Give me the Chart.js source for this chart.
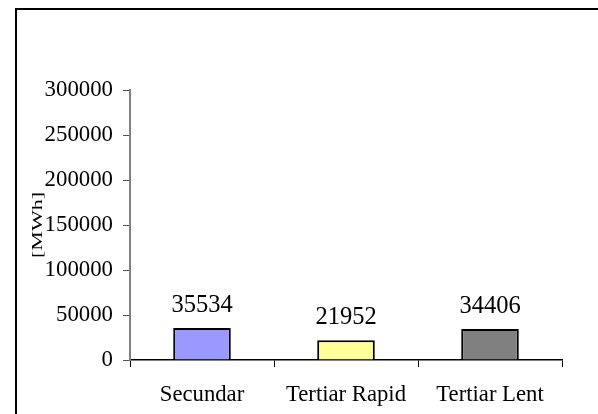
<!DOCTYPE html>
<html>
<head>
<meta charset="utf-8">
<script src="https://cdn.jsdelivr.net/npm/chart.js@4/dist/chart.umd.min.js"></script>
<style>
html,body{margin:0;padding:0;background:#fff;}
canvas{display:block;}
</style>
</head>
<body>
<canvas id="c" width="598" height="414"></canvas>
<script>
const categories = ['Secundar', 'Tertiar Rapid', 'Tertiar Lent'];
const values = [35534, 21952, 34406];
const barColors = ['#9999FF', '#FFFF99', '#808080'];
const yTitle = '[MWh]';
const yMin = 0, yMax = 300000, yStep = 50000;

const FONT = "'Liberation Serif', 'Times New Roman', serif";

const framePlugin = {
  id: 'frame',
  beforeDraw(chart) {
    const ctx = chart.ctx;
    ctx.save();
    ctx.fillStyle = '#fff';
    ctx.fillRect(0, 0, chart.width, chart.height);
    ctx.strokeStyle = '#000';
    ctx.lineWidth = 2;
    ctx.strokeRect(16, 9, 700, 500);
    ctx.restore();
  }
};

const labelPlugin = {
  id: 'valueLabels',
  afterDatasetsDraw(chart) {
    const ctx = chart.ctx;
    const meta = chart.getDatasetMeta(0);
    ctx.save();
    ctx.fillStyle = '#000';
    ctx.font = '24.5px ' + FONT;
    ctx.textAlign = 'center';
    ctx.textBaseline = 'alphabetic';
    meta.data.forEach((el, i) => {
      ctx.fillText(String(chart.data.datasets[0].data[i]), el.x, el.y - 16);
    });
    ctx.restore();
  },
  afterDraw(chart) {
    const ctx = chart.ctx;
    const area = chart.chartArea;
    ctx.save();
    ctx.fillStyle = '#000';
    ctx.font = '22px ' + FONT;
    ctx.textAlign = 'center';
    ctx.textBaseline = 'middle';
    ctx.translate(38, (area.top + area.bottom) / 2);
    ctx.rotate(-Math.PI / 2);
    ctx.scale(1, 0.7);
    ctx.fillText(yTitle, 0, 0);
    ctx.restore();
  }
};

new Chart(document.getElementById('c'), {
  type: 'bar',
  data: {
    labels: categories,
    datasets: [{
      data: values,
      backgroundColor: barColors,
      borderColor: '#000',
      borderWidth: 2,
      barPercentage: 0.4,
      categoryPercentage: 1
    }]
  },
  options: {
    responsive: false,
    animation: false,
    devicePixelRatio: 1,
    layout: { padding: { left: 0, right: 36, top: 90, bottom: 0 } },
    plugins: { legend: { display: false }, tooltip: { enabled: false } },
    scales: {
      x: {
        offset: true,
        grid: { display: true, offset: true, drawOnChartArea: false, drawTicks: true, tickLength: 7, color: '#000', lineWidth: 1 },
        border: { display: true, color: '#000', width: 1.5 },
        ticks: { color: '#000', font: { family: FONT, size: 22.7 }, padding: 14, maxRotation: 0, autoSkip: false },
        afterFit(scale) { scale.height = 54; }
      },
      y: {
        min: yMin, max: yMax,
        grid: { display: true, drawOnChartArea: false, drawTicks: true, tickLength: 7, color: '#555', lineWidth: 1 },
        border: { display: true, color: '#808080', width: 2 },
        ticks: { stepSize: yStep, color: '#000', font: { family: FONT, size: 22.8 }, padding: 10,
                 callback: (v) => String(v) },
        afterFit(scale) { scale.width = 130; }
      }
    }
  },
  plugins: [framePlugin, labelPlugin]
});
</script>
</body>
</html>
